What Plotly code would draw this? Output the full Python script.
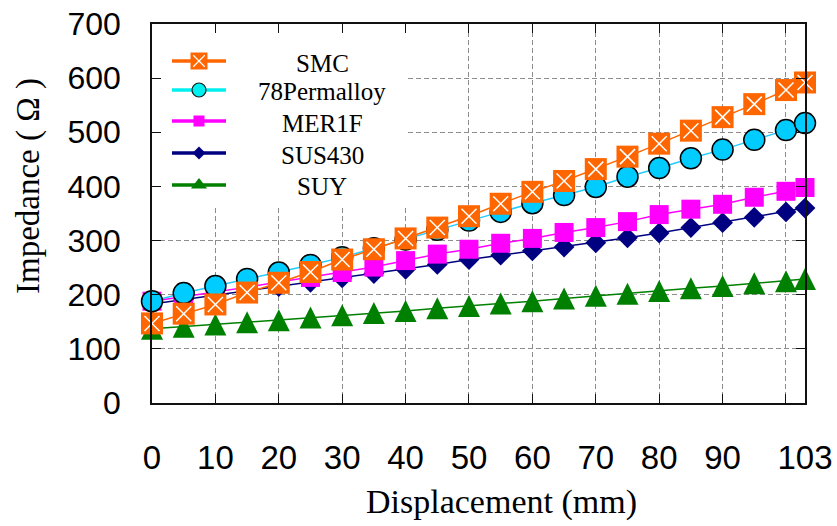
import plotly.graph_objects as go

# Displacement (mm) and measured impedance (Ω) for each core material
displacement = [0, 5, 10, 15, 20, 25, 30, 35, 40, 45, 50, 55, 60, 65, 70, 75, 80, 85, 90, 95, 100, 103]
smc = [147, 165, 182, 204, 222, 242, 265, 284, 304, 324, 345, 368, 390, 410, 432, 455, 479, 503, 528, 552, 578, 592]
permalloy78 = [188, 203, 216, 229, 241, 255, 269, 286, 302, 320, 337, 353, 369, 384, 399, 418, 434, 452, 468, 486, 504, 517]
mer1f = [188, 196, 205, 214, 223, 232, 241, 251, 263, 275, 284, 295, 304, 315, 324, 335, 348, 358, 367, 380, 391, 398]
sus430 = [183, 191, 199, 207, 215, 223, 231, 239, 247, 256, 265, 273, 281, 288, 296, 305, 314, 324, 333, 343, 353, 360]
suy = [137, 141, 145, 149, 153, 158, 162, 166, 170, 175, 179, 184, 188, 193, 198, 202, 207, 212, 216, 221, 225, 229]

x_tickvals = [0, 10, 20, 30, 40, 50, 60, 70, 80, 90, 100, 103]
x_ticktext = ["0", "10", "20", "30", "40", "50", "60", "70", "80", "90", "", "103"]

W, H = 837, 526
L, R, T, B = 152, 32, 24, 123
PW, PH = W - L - R, H - T - B


def px_x(p):
    """horizontal pixel -> paper fraction"""
    return (p - L) / PW


def px_y(p):
    """vertical pixel (from top) -> paper fraction"""
    return (H - B - p) / PH


SANS = "Liberation Sans, Arial, sans-serif"
SERIF = "Liberation Serif, Times New Roman, serif"

fig = go.Figure()

# SUY, SUS430, MER1F, 78Permalloy, SMC (later traces sit on top)
# the up-pointing triangle is an arrow-down glyph turned round and centred on its point
fig.add_trace(go.Scatter(
    x=displacement, y=suy, mode="lines+markers", name="SUY",
    line=dict(color="#008000", width=1.5),
    marker=dict(symbol="arrow-down", angle=180, size=22, standoff=11,
                color="#008000", line=dict(width=0)),
    cliponaxis=False))
fig.add_trace(go.Scatter(
    x=displacement, y=sus430, mode="lines+markers", name="SUS430",
    line=dict(color="#000080", width=1.5),
    marker=dict(symbol="diamond", size=16, color="#000080", line=dict(width=0)),
    cliponaxis=False))
fig.add_trace(go.Scatter(
    x=displacement, y=mer1f, mode="lines+markers", name="MER1F",
    line=dict(color="#FF00FF", width=1.5),
    marker=dict(symbol="square", size=19, color="#FF00FF", line=dict(width=0)),
    cliponaxis=False))
fig.add_trace(go.Scatter(
    x=displacement, y=permalloy78, mode="lines+markers", name="78Permalloy",
    line=dict(color="#22CCFF", width=1.5),
    marker=dict(symbol="circle", size=21, color="#00CCFF",
                line=dict(color="#000000", width=1.5)),
    cliponaxis=False))
fig.add_trace(go.Scatter(
    x=displacement, y=smc, mode="lines+markers", name="SMC",
    line=dict(color="#FF6600", width=1.5),
    marker=dict(symbol="square", size=22, color="#FF6600", line=dict(width=0)),
    cliponaxis=False))
fig.add_trace(go.Scatter(
    x=displacement, y=smc, mode="markers", showlegend=False, hoverinfo="skip",
    marker=dict(symbol="x-thin", size=15, color="white",
                line=dict(color="white", width=1.5)),
    cliponaxis=False))

# Legend key, drawn on an overlay axis pair measured in pixels
key_rows = [
    ("SMC", 61, "#FF6600", dict(symbol="square", size=17, color="#FF6600", line=dict(width=0))),
    ("78Permalloy", 90, "#00F0F0", dict(symbol="circle", size=14, color="#00F0F0",
                                        line=dict(color="#1a1a1a", width=1.2))),
    ("MER1F", 121, "#FF00FF", dict(symbol="square", size=11, color="#FF00FF", line=dict(width=0))),
    ("SUS430", 153, "#000080", dict(symbol="diamond", size=10, color="#000080", line=dict(width=0))),
    ("SUY", 185, "#008000", dict(symbol="triangle-up", size=14, color="#008000", line=dict(width=0))),
]
key_x0, key_x1, key_xm, key_text_x = 172, 226, 199, 322

# white panel behind the key hides the grid there
fig.add_trace(go.Scatter(
    x=[153.5, 407, 407, 153.5, 153.5], y=[25, 25, 207, 207, 25], mode="lines",
    xaxis="x2", yaxis="y2", fill="toself", fillcolor="white",
    line=dict(width=0, color="white"), showlegend=False, hoverinfo="skip"))

for name, ry, col, mk in key_rows:
    fig.add_trace(go.Scatter(
        x=[key_x0, key_x1], y=[ry, ry], mode="lines", xaxis="x2", yaxis="y2",
        line=dict(color=col, width=3.5), showlegend=False, hoverinfo="skip"))
    fig.add_trace(go.Scatter(
        x=[key_xm], y=[ry], mode="markers", xaxis="x2", yaxis="y2",
        marker=mk, showlegend=False, hoverinfo="skip", cliponaxis=False))
    if name == "SMC":
        fig.add_trace(go.Scatter(
            x=[key_xm], y=[ry], mode="markers", xaxis="x2", yaxis="y2",
            marker=dict(symbol="x-thin", size=11.5, color="white",
                        line=dict(color="white", width=1.2)),
            showlegend=False, hoverinfo="skip", cliponaxis=False))

annotations = []
for name, ry, col, mk in key_rows:
    annotations.append(dict(
        x=px_x(key_text_x), y=px_y(ry + 2), xref="paper", yref="paper", text=name,
        showarrow=False, xanchor="center", yanchor="middle",
        font=dict(family=SERIF, size=25, color="black")))

# axis titles
annotations.append(dict(
    x=px_x(501), y=px_y(502), xref="paper", yref="paper",
    text="Displacement (mm)", showarrow=False, xanchor="center", yanchor="middle",
    font=dict(family=SERIF, size=34, color="black")))
annotations.append(dict(
    x=px_x(28), y=px_y(186), xref="paper", yref="paper", text="Impedance ( Ω )",
    textangle=-90, showarrow=False, xanchor="center", yanchor="middle",
    font=dict(family=SERIF, size=33, color="black")))

grid_common = dict(
    showgrid=True, gridcolor="#8c8c8c", gridwidth=1.3, griddash="5px,3px",
    showline=True, linecolor="#111111", linewidth=1.5, mirror="ticks",
    ticks="inside", ticklen=9, tickwidth=1.3, tickcolor="#111111",
    zeroline=False, automargin=False,
)

fig.update_layout(
    width=W, height=H,
    margin=dict(l=L, r=R, t=T, b=B, pad=0, autoexpand=False),
    paper_bgcolor="white", plot_bgcolor="white",
    showlegend=False,
    xaxis=dict(range=[0, 103], tickvals=x_tickvals, ticktext=x_ticktext,
               tickfont=dict(family=SANS, size=33, color="black"),
               ticklabelstandoff=25, **grid_common),
    yaxis=dict(range=[0, 700], dtick=100, tick0=0,
               tickfont=dict(family=SANS, size=32, color="black"),
               ticklabelstandoff=23, **grid_common),
    xaxis2=dict(range=[L, W - R], overlaying="x", anchor="y2", visible=False),
    yaxis2=dict(range=[H - B, T], overlaying="y", anchor="x2", visible=False),
    annotations=annotations,
)

fig.write_html("out.html")
